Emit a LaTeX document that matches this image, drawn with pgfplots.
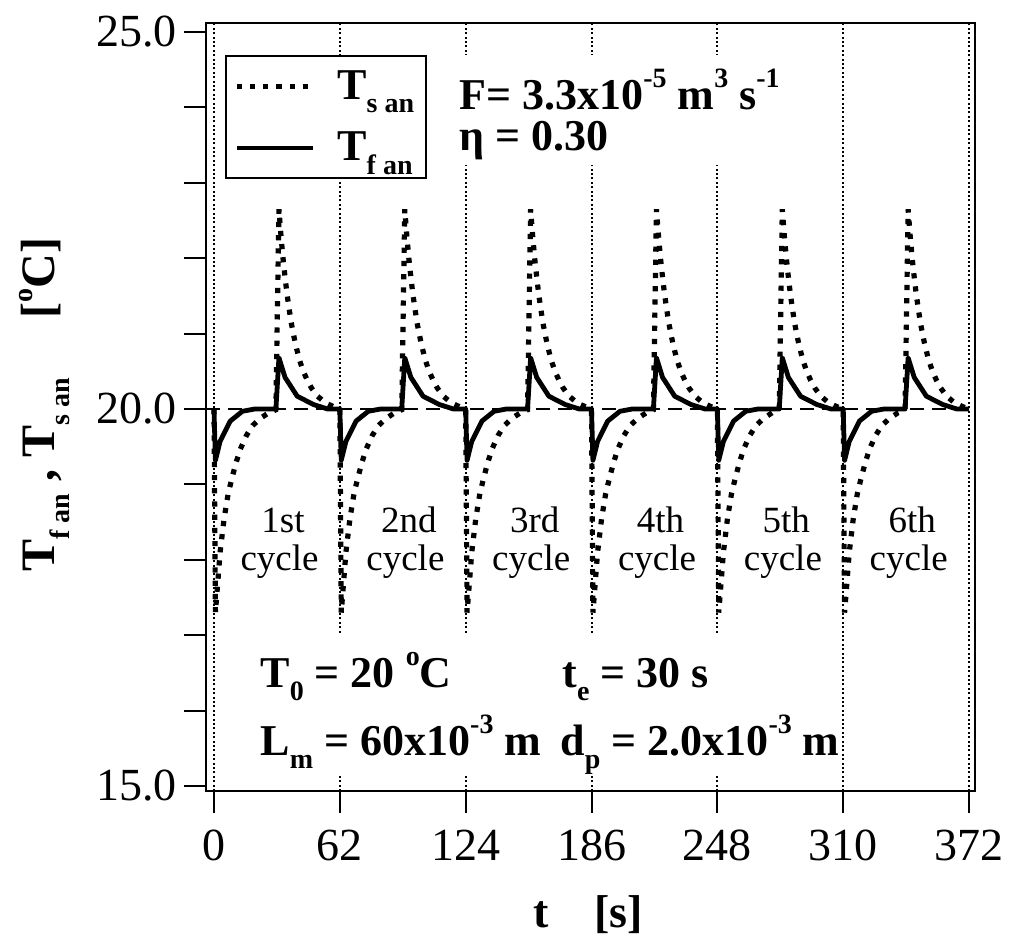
\documentclass[border=0pt]{standalone}
\usepackage{fontspec}
\setmainfont{Liberation Serif}
\usepackage{pgfplots}
\pgfplotsset{compat=1.18}

% small lowered / raised text in the labels
\newcommand{\lo}[1]{\raisebox{-0.3em}{\fontsize{14}{14}\selectfont #1}}
\newcommand{\hi}[1]{\raisebox{11pt}{\fontsize{14}{14}\selectfont #1}}

\begin{document}
\begin{tikzpicture}
\useasboundingbox (-103pt,-77pt) rectangle (402pt,395.5pt);
\begin{axis}[
  at={(0,0)}, anchor=south west,
  scale only axis,
  width=384.5pt, height=384pt,
  xmin=-3.94, xmax=374.96,
  ymin=14.934, ymax=25.12,
  axis line style={line width=1.3pt},
  tick align=outside, tick pos=left,
  major tick length=11pt, minor tick length=11pt,
  every tick/.style={black, line width=1pt},
  xtick={0,62,124,186,248,310,372},
  xticklabels={0,62,124,186,248,310,372},
  ytick={15,20,25},
  yticklabels={15.0,20.0,25.0},
  minor ytick={16,17,18,19,21,22,23,24},
  ticklabel style={font=\fontsize{23}{23}\selectfont},
  xticklabel style={yshift=-5pt},
  xmajorgrids,
  major grid style={black, line width=1pt, dash pattern=on 1pt off 1.2pt},
  xlabel={\bfseries t\quad [s]},
  ylabel={\bfseries T\lo{f an} , T\lo{s an}\quad\ [\hi{o}C]},
  xlabel style={at={(axis description cs:0.497,0)}, anchor=base, yshift=-68.5pt,
    font=\fontsize{23}{23}\selectfont},
  ylabel style={at={([xshift=-75.5pt]axis description cs:0,0.503)}, anchor=base,
    font=\fontsize{24}{24}\selectfont},
  legend style={at={(rel axis cs:0.0247,0.9583)}, anchor=north west,
    draw=black, line width=1.2pt, inner xsep=4pt, inner ysep=5pt,
    font=\bfseries\fontsize{22}{22}\selectfont, row sep=11pt,
    /tikz/every odd column/.append style={column sep=9pt}},
  legend cell align=left,
  legend image code/.code={\draw[#1] (0pt,0pt) -- (38pt,0pt);},
]

% T_s an
\addplot[black, line width=2.6pt, dash pattern=on 2.6pt off 4pt] coordinates {
(0,20.00) (0.7,17.30) (2,17.75) (3,18.10) (5,18.55) (7,18.88) (9,19.10) (11,19.30)
(13,19.47) (16,19.65) (19,19.78) (23,19.88) (27,19.95) (30.5,19.99)
(32,22.65) (33,22.30) (34,22.00) (35,21.75) (36,21.52) (38,21.15) (40,20.88)
(42,20.66) (44,20.50) (46,20.38) (48,20.28) (51,20.17) (55,20.08) (59,20.03) (62,20.00)
(62.7,17.30) (64,17.75) (65,18.10) (67,18.55) (69,18.88) (71,19.10) (73,19.30)
(75,19.47) (78,19.65) (81,19.78) (85,19.88) (89,19.95) (92.5,19.99)
(94,22.65) (95,22.30) (96,22.00) (97,21.75) (98,21.52) (100,21.15) (102,20.88)
(104,20.66) (106,20.50) (108,20.38) (110,20.28) (113,20.17) (117,20.08) (121,20.03) (124,20.00)
(124.7,17.30) (126,17.75) (127,18.10) (129,18.55) (131,18.88) (133,19.10) (135,19.30)
(137,19.47) (140,19.65) (143,19.78) (147,19.88) (151,19.95) (154.5,19.99)
(156,22.65) (157,22.30) (158,22.00) (159,21.75) (160,21.52) (162,21.15) (164,20.88)
(166,20.66) (168,20.50) (170,20.38) (172,20.28) (175,20.17) (179,20.08) (183,20.03) (186,20.00)
(186.7,17.30) (188,17.75) (189,18.10) (191,18.55) (193,18.88) (195,19.10) (197,19.30)
(199,19.47) (202,19.65) (205,19.78) (209,19.88) (213,19.95) (216.5,19.99)
(218,22.65) (219,22.30) (220,22.00) (221,21.75) (222,21.52) (224,21.15) (226,20.88)
(228,20.66) (230,20.50) (232,20.38) (234,20.28) (237,20.17) (241,20.08) (245,20.03) (248,20.00)
(248.7,17.30) (250,17.75) (251,18.10) (253,18.55) (255,18.88) (257,19.10) (259,19.30)
(261,19.47) (264,19.65) (267,19.78) (271,19.88) (275,19.95) (278.5,19.99)
(280,22.65) (281,22.30) (282,22.00) (283,21.75) (284,21.52) (286,21.15) (288,20.88)
(290,20.66) (292,20.50) (294,20.38) (296,20.28) (299,20.17) (303,20.08) (307,20.03) (310,20.00)
(310.7,17.30) (312,17.75) (313,18.10) (315,18.55) (317,18.88) (319,19.10) (321,19.30)
(323,19.47) (326,19.65) (329,19.78) (333,19.88) (337,19.95) (340.5,19.99)
(342,22.65) (343,22.30) (344,22.00) (345,21.75) (346,21.52) (348,21.15) (350,20.88)
(352,20.66) (354,20.50) (356,20.38) (358,20.28) (361,20.17) (365,20.08) (369,20.03) (372,20.00)
};
\addlegendentry{T\lo{s an}}

% T_f an
\addplot[black, line width=2.4pt, line join=round] coordinates {
(0,20.00) (0.7,19.32) (3,19.57) (8,19.84) (14,19.97) (20,20.00) (30.5,20.00)
(32,20.68) (35,20.42) (41,20.17) (49,20.06) (56,20.00) (62,20.00)
(62.7,19.32) (65,19.57) (70,19.84) (76,19.97) (82,20.00) (92.5,20.00)
(94,20.68) (97,20.42) (103,20.17) (111,20.06) (118,20.00) (124,20.00)
(124.7,19.32) (127,19.57) (132,19.84) (138,19.97) (144,20.00) (154.5,20.00)
(156,20.68) (159,20.42) (165,20.17) (173,20.06) (180,20.00) (186,20.00)
(186.7,19.32) (189,19.57) (194,19.84) (200,19.97) (206,20.00) (216.5,20.00)
(218,20.68) (221,20.42) (227,20.17) (235,20.06) (242,20.00) (248,20.00)
(248.7,19.32) (251,19.57) (256,19.84) (262,19.97) (268,20.00) (278.5,20.00)
(280,20.68) (283,20.42) (289,20.17) (297,20.06) (304,20.00) (310,20.00)
(310.7,19.32) (313,19.57) (318,19.84) (324,19.97) (330,20.00) (340.5,20.00)
(342,20.68) (345,20.42) (351,20.17) (359,20.06) (366,20.00) (372,20.00)
};
\addlegendentry{T\lo{f an}}

% reference level T0
\addplot[black, line width=0.9pt, dash pattern=on 7pt off 4pt, forget plot]
  coordinates {(-3.94,20) (374.96,20)};

% white backing behind the annotations
\fill[white] (axis cs:118.7,23.24) rectangle (axis cs:288.7,24.69);
\fill[white] (axis cs:17.7,15.15) rectangle (axis cs:309.4,17.0);

\begin{scope}[font=\bfseries\fontsize{22}{22}\selectfont]
\node[anchor=base west, inner sep=0pt] at (axis cs:120.7,23.966) {F= 3.3x10\hi{-5} m\hi{3} s\hi{-1}};
\node[anchor=base west, inner sep=0pt] at (axis cs:120.7,23.435) {η = 0.30};
\node[anchor=base west, inner sep=0pt] at (axis cs:22.7,16.313) {T\lo{0} = 20 \hi{o}C};
\node[anchor=base west, inner sep=0pt] at (axis cs:171.5,16.313) {t\lo{e} = 30 s};
\node[anchor=base west, inner sep=0pt] at (axis cs:22.7,15.41) {L\lo{m} = 60x10\hi{-3} m};
\node[anchor=base west, inner sep=0pt] at (axis cs:170.5,15.41) {d\lo{p} = 2.0x10\hi{-3} m};
\end{scope}

\begin{scope}[font=\fontsize{18.5}{18.5}\selectfont]
\node[anchor=base, inner sep=0pt] at (axis cs:34,18.369) {1st};
\node[anchor=base, inner sep=0pt] at (axis cs:32.3,17.865) {cycle};
\node[anchor=base, inner sep=0pt] at (axis cs:96,18.369) {2nd};
\node[anchor=base, inner sep=0pt] at (axis cs:94.3,17.865) {cycle};
\node[anchor=base, inner sep=0pt] at (axis cs:158,18.369) {3rd};
\node[anchor=base, inner sep=0pt] at (axis cs:156.3,17.865) {cycle};
\node[anchor=base, inner sep=0pt] at (axis cs:220,18.369) {4th};
\node[anchor=base, inner sep=0pt] at (axis cs:218.3,17.865) {cycle};
\node[anchor=base, inner sep=0pt] at (axis cs:282,18.369) {5th};
\node[anchor=base, inner sep=0pt] at (axis cs:280.3,17.865) {cycle};
\node[anchor=base, inner sep=0pt] at (axis cs:344,18.369) {6th};
\node[anchor=base, inner sep=0pt] at (axis cs:342.3,17.865) {cycle};
\end{scope}

\end{axis}
\end{tikzpicture}
\end{document}
